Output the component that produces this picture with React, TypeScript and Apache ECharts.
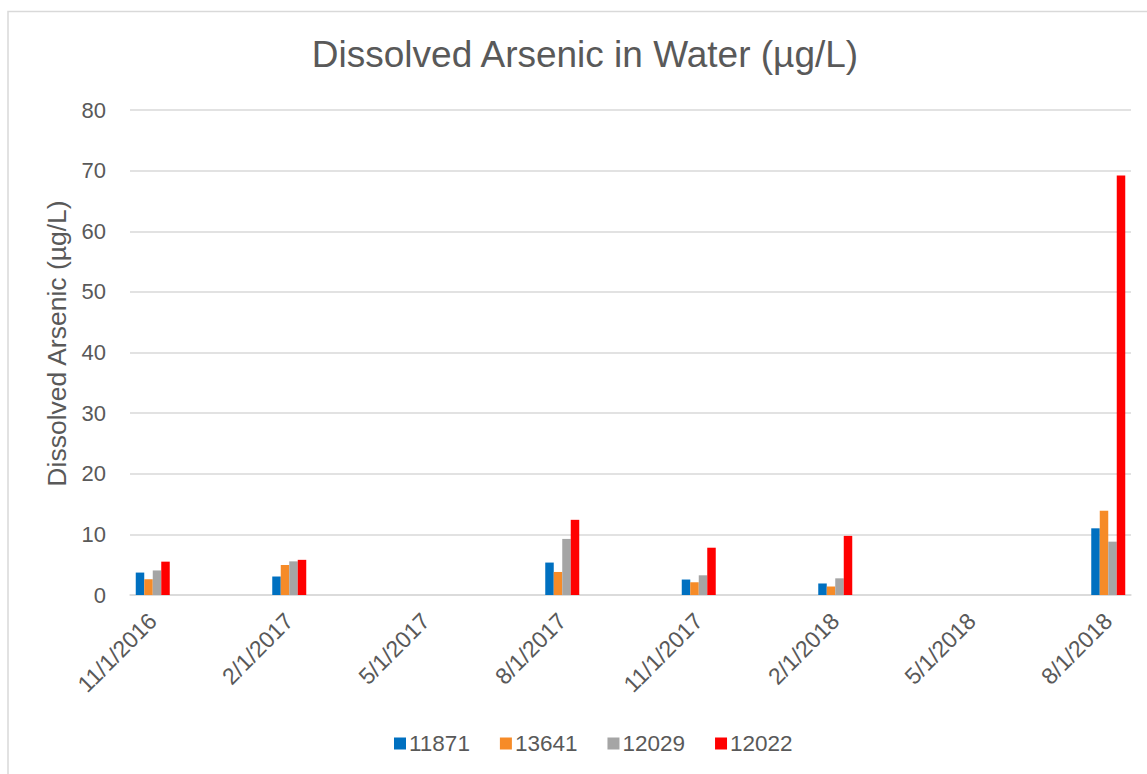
import React, { useEffect, useRef } from "react";
import * as echarts from "echarts";

const months = [
  "11/1/2016", "12/1/2016", "1/1/2017", "2/1/2017", "3/1/2017", "4/1/2017",
  "5/1/2017", "6/1/2017", "7/1/2017", "8/1/2017", "9/1/2017", "10/1/2017",
  "11/1/2017", "12/1/2017", "1/1/2018", "2/1/2018", "3/1/2018", "4/1/2018",
  "5/1/2018", "6/1/2018", "7/1/2018", "8/1/2018",
];

const s11871 = [3.7, null, null, 3.05, null, null, null, null, null, 5.35, null, null, 2.55, null, null, 1.9, null, null, null, null, null, 11.0];
const s13641 = [2.6, null, null, 4.95, null, null, null, null, null, 3.8, null, null, 2.1, null, null, 1.4, null, null, null, null, null, 13.9];
const s12029 = [4.05, null, null, 5.55, null, null, null, null, null, 9.25, null, null, 3.25, null, null, 2.75, null, null, null, null, null, 8.8];
const s12022 = [5.5, null, null, 5.8, null, null, null, null, null, 12.4, null, null, 7.8, null, null, 9.75, null, null, null, null, null, 69.2];

const seriesNames = ["11871", "13641", "12029", "12022"];
const seriesColors = ["#0070C0", "#F68B28", "#A5A5A5", "#FF0000"];
const seriesData = [s11871, s13641, s12029, s12022];

const FONT = "'Liberation Sans', Arial, sans-serif";
const TXT = "#595959";

export default function App() {
  const ref = useRef<HTMLDivElement>(null);
  useEffect(() => {
    if (!ref.current) return;
    const chart = echarts.init(ref.current, undefined, { renderer: "svg" });
    chart.setOption({
      animation: false,
      backgroundColor: "#ffffff",
      graphic: [
        {
          type: "rect",
          shape: { x: 8, y: 11.5, width: 1300, height: 900 },
          style: { fill: "none", stroke: "#d9d9d9", lineWidth: 1.5 },
          silent: true,
        },
      ],
      title: {
        text: "Dissolved Arsenic in Water (µg/L)",
        left: 580,
        top: 31,
        textAlign: "center",
        textStyle: { fontFamily: FONT, fontSize: 37, fontWeight: "normal", color: TXT },
      },
      grid: { left: 130, right: 16, top: 110, bottom: 179, containLabel: false },
      legend: {
        data: seriesNames,
        left: 389,
        top: 727,
        icon: "rect",
        itemWidth: 12,
        itemHeight: 12,
        itemGap: 30,
        textStyle: { fontFamily: FONT, fontSize: 22.5, color: TXT, padding: [0, 0, 0, -2] },
      },
      xAxis: {
        type: "category",
        data: months,
        axisLine: { show: true, lineStyle: { color: "#d9d9d9", width: 1.5 } },
        axisTick: { show: false },
        axisLabel: {
          interval: 2,
          rotate: 45,
          margin: 22,
          fontFamily: FONT,
          fontSize: 23,
          color: TXT,
        },
      },
      yAxis: {
        type: "value",
        min: 0,
        max: 80,
        interval: 10,
        name: "Dissolved Arsenic (µg/L)",
        nameLocation: "middle",
        nameGap: 60,
        nameTextStyle: { fontFamily: FONT, fontSize: 26.5, color: TXT, padding: [0, 0, 0, 18] },
        axisLine: { show: false },
        axisTick: { show: false },
        axisLabel: { fontFamily: FONT, fontSize: 22, color: TXT, margin: 24 },
        splitLine: { lineStyle: { color: "#d9d9d9", width: 1.5 } },
      },
      series: seriesNames.map((name, i) => ({
        name,
        type: "bar",
        data: seriesData[i],
        barWidth: 8.5,
        barGap: "0%",
        itemStyle: { color: seriesColors[i] },
      })),
    });
    return () => chart.dispose();
  }, []);
  return (
    <div
      ref={ref}
      style={{ position: "absolute", left: 0, top: 0, width: 1147, height: 774 }}
    />
  );
}
